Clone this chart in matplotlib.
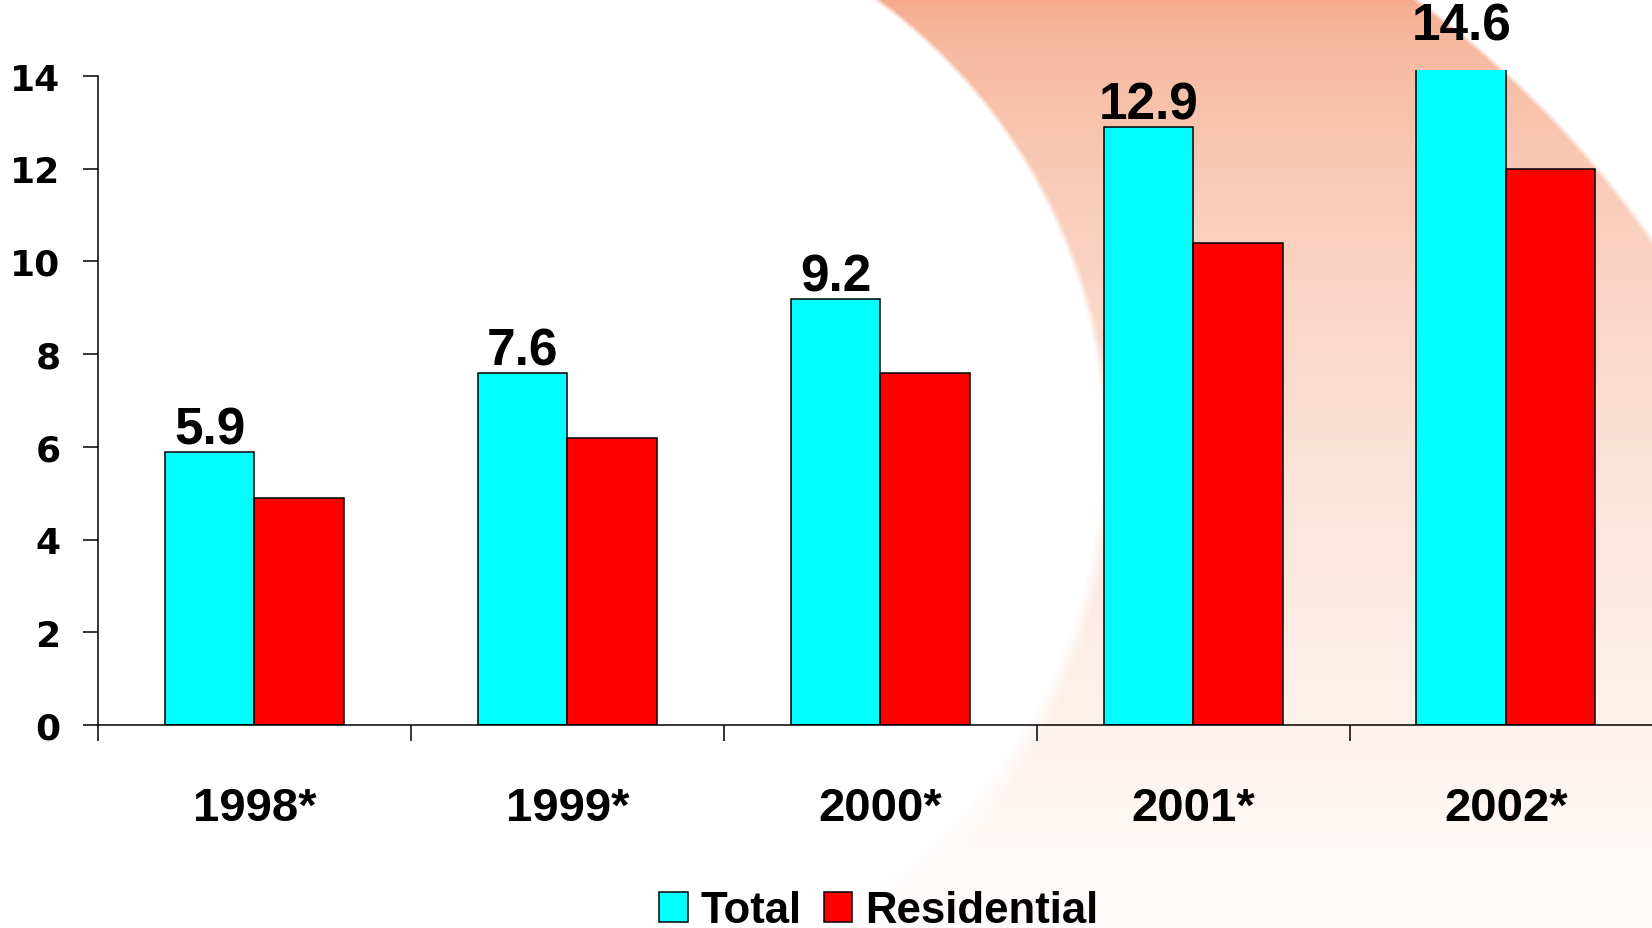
import numpy as np
import matplotlib
matplotlib.use("Agg")
import matplotlib.pyplot as plt

years = ["1998*", "1999*", "2000*", "2001*", "2002*"]
total = [5.9, 7.6, 9.2, 12.9, 14.6]
residential = [4.9, 6.2, 7.6, 10.4, 12.0]
yticks = [0, 2, 4, 6, 8, 10, 12, 14]

W, H = 1652, 929
fig = plt.figure(figsize=(W / 100, H / 100), dpi=100)

# background: salmon crescent fading downwards (slide template)
yy, xx = np.mgrid[0:H, 0:W].astype(float)
d1 = 1013 - np.hypot(xx - 820, yy - 820)      # inside outer circle
d2 = np.hypot(xx - 547, yy - 453) - 560       # outside inner circle
soft = 5 + 25 * (yy / H) ** 2
mask = np.clip(np.minimum(d1, d2) / soft + 0.5, 0, 1)
mask[xx < 500] = 0
alpha = mask * (1 - 0.97 * (yy / H) ** 0.55)
base = np.array([245, 168, 136]) / 255.0
img = np.ones((H, W, 3))
for c in range(3):
    img[..., c] = 1 - alpha * (1 - base[c])
bg = fig.add_axes([0, 0, 1, 1], zorder=0)
bg.imshow(img, aspect="auto", interpolation="bilinear")
bg.axis("off")

ax = fig.add_axes([0.0593, 0.2185, 0.947, 0.7056], zorder=1)
ax.patch.set_alpha(0)

x = np.arange(len(years))
w = 0.286
ax.bar(x - w / 2, total, w, color="#00FFFF", edgecolor="black", linewidth=1.1, label="Total")
ax.bar(x + w / 2, residential, w, color="#FF0000", edgecolor="black", linewidth=1.1, label="Residential")

for xi, v in zip(x, total):
    ax.annotate(f"{v}", (xi - w / 2, v), xytext=(0, 6), textcoords="offset points",
                ha="center", va="baseline", fontsize=37, fontweight="bold",
                family="Liberation Sans", annotation_clip=False)

ax.set_xlim(-0.5, len(years) - 0.5)
ax.set_ylim(0, 14.14)
for s in ["top", "right"]:
    ax.spines[s].set_visible(False)
ax.spines["left"].set_bounds(0, 14)
ax.spines["left"].set_linewidth(1.1)
ax.spines["bottom"].set_linewidth(1.1)

ax.set_yticks(yticks)
ax.set_yticklabels([str(t) for t in yticks], fontsize=26, fontweight="bold", family="DejaVu Sans")
ax.tick_params(axis="y", length=11, width=1.1, pad=16)

ax.set_xticks(np.arange(-0.5, len(years), 1))
ax.set_xticklabels([])
ax.tick_params(axis="x", which="major", length=11.5, width=1.1)
ax.set_xticks(x, minor=True)
ax.set_xticklabels(years, minor=True, fontsize=34, fontweight="bold", family="Liberation Sans")
ax.tick_params(axis="x", which="minor", length=0, pad=44)

fig.legend(loc="center", bbox_to_anchor=(0.532, 0.0186), ncol=2, frameon=False,
           prop={"family": "Liberation Sans", "weight": "bold", "size": 31.5},
           handlelength=0.65, handleheight=0.7, handletextpad=0.3,
           columnspacing=0.5, borderpad=0)

fig.savefig("out.png", dpi=100)
